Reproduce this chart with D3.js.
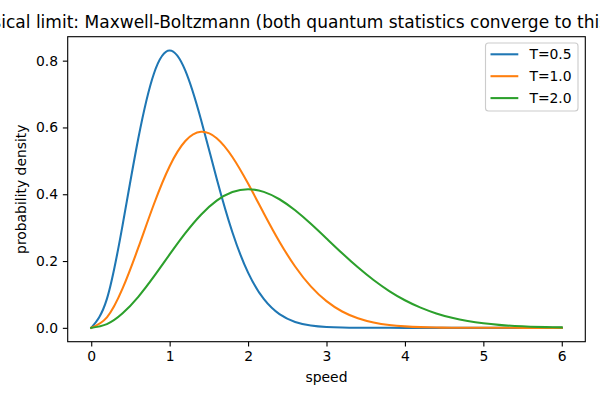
<!DOCTYPE html>
<html><head><meta charset="utf-8">
<script src="https://cdn.jsdelivr.net/npm/d3@7"></script>
<style>body{margin:0;background:#fff}svg{display:block}text{font-family:"DejaVu Sans",sans-serif}</style>
</head><body><svg id="c" width="600" height="400"></svg>
<script>
const titleText = "Classical limit: Maxwell-Boltzmann (both quantum statistics converge to this)";
const xLabel = "speed";
const yLabel = "probability density";
const speeds = [0,0.2,0.4,0.6,0.8,1.0,1.2,1.4,1.6,1.8,2.0,2.2,2.4,2.6,2.8,3.0,3.2,3.4,3.6,3.8,4.0,4.2,4.4,4.6,4.8,5.0,5.2,5.4,5.6,5.8,6.0];
const seriesNames = ["T=0.5","T=1.0","T=2.0"];
const seriesColors = ["#1f77b4","#ff7f0e","#2ca02c"];
const t05 = [0,0.0867,0.3077,0.5668,0.7616,0.8302,0.7700,0.6231,0.4466,0.2863,0.1653,0.0864,0.0410,0.0177,0.0070,0.0025,0.0008,0.00025,0.00007,0.00002,0,0,0,0,0,0,0,0,0,0,0];
const t10 = [0,0.0313,0.1179,0.2399,0.3708,0.4839,0.5593,0.5869,0.5679,0.5116,0.4319,0.3434,0.2580,0.1836,0.1241,0.0798,0.0488,0.0285,0.0159,0.0084,0.0043,0.0021,0.0010,0.0004,0.0002,0.00007,0.00003,0.00001,0,0,0];
const t20 = [0,0.0112,0.0434,0.0928,0.1538,0.2197,0.2834,0.3387,0.3808,0.4066,0.4151,0.4071,0.3850,0.3519,0.3115,0.2676,0.2233,0.1812,0.1432,0.1102,0.0827,0.0605,0.0432,0.0301,0.0205,0.0136,0.0088,0.0056,0.0035,0.0021,0.0013];
const xTicks = [0,1,2,3,4,5,6];
const yTicks = [0.0,0.2,0.4,0.6,0.8];

const svg = d3.select("#c");
const L=67.7,R=585.3,T=36.7,B=341.7;
const x = d3.scaleLinear().domain([-0.3,6.3]).range([L,R]);
const y = d3.scaleLinear().domain([-0.04151,0.87172]).range([B,T]);

const allSeries=[t05,t10,t20];
const line = d3.line().x(d=>x(d[0])).y(d=>y(d[1])).curve(d3.curveNatural);
const g = svg.append("g");
g.append("clipPath").attr("id","clip").append("rect").attr("x",L).attr("y",T).attr("width",R-L).attr("height",B-T);
allSeries.forEach((s,i)=>{
  g.append("path").attr("clip-path","url(#clip)").datum(speeds.map((v,j)=>[v,s[j]]))
   .attr("d",line).attr("fill","none").attr("stroke",seriesColors[i]).attr("stroke-width",2.08).attr("stroke-linecap","square");
});

const xa = svg.append("g").attr("transform",`translate(0,${B})`)
  .call(d3.axisBottom(x).tickValues(xTicks).tickFormat(d3.format("d")).tickSizeInner(4.86).tickSizeOuter(0).tickPadding(4.86));
const ya = svg.append("g").attr("transform",`translate(${L},0)`)
  .call(d3.axisLeft(y).tickValues(yTicks).tickFormat(d3.format(".1f")).tickSizeInner(4.86).tickSizeOuter(0).tickPadding(4.86));
[xa,ya].forEach(a=>{
  a.select(".domain").remove();
  a.selectAll("line").attr("stroke","#000").attr("stroke-width",1.11);
  a.selectAll("text").attr("font-size",13.9).attr("fill","#000").attr("font-family","DejaVu Sans");
});
svg.append("rect").attr("x",L).attr("y",T).attr("width",R-L).attr("height",B-T)
  .attr("fill","none").attr("stroke","#000").attr("stroke-width",1.11);

svg.append("text").attr("x",285.6).attr("y",28.3).attr("text-anchor","middle").attr("font-size",17.05).text(titleText);
svg.append("text").attr("x",(L+R)/2).attr("y",382).attr("text-anchor","middle").attr("font-size",13.9).text(xLabel);
svg.append("text").attr("transform",`translate(26,${(T+B)/2}) rotate(-90)`).attr("text-anchor","middle").attr("font-size",13.9).text(yLabel);

const lg = svg.append("g");
lg.append("rect").attr("x",485.5).attr("y",43).attr("width",92.5).attr("height",68).attr("rx",3)
  .attr("fill","#fff").attr("fill-opacity",0.8).attr("stroke","#cccccc").attr("stroke-width",1.11);
seriesNames.forEach((n,i)=>{
  const yy = 54.3 + i*21.9;
  lg.append("line").attr("x1",490.5).attr("x2",518.3).attr("y1",yy).attr("y2",yy).attr("stroke",seriesColors[i]).attr("stroke-width",2.08);
  lg.append("text").attr("x",529.4).attr("y",yy+5).attr("font-size",13.9).text(n);
});
</script></body></html>
